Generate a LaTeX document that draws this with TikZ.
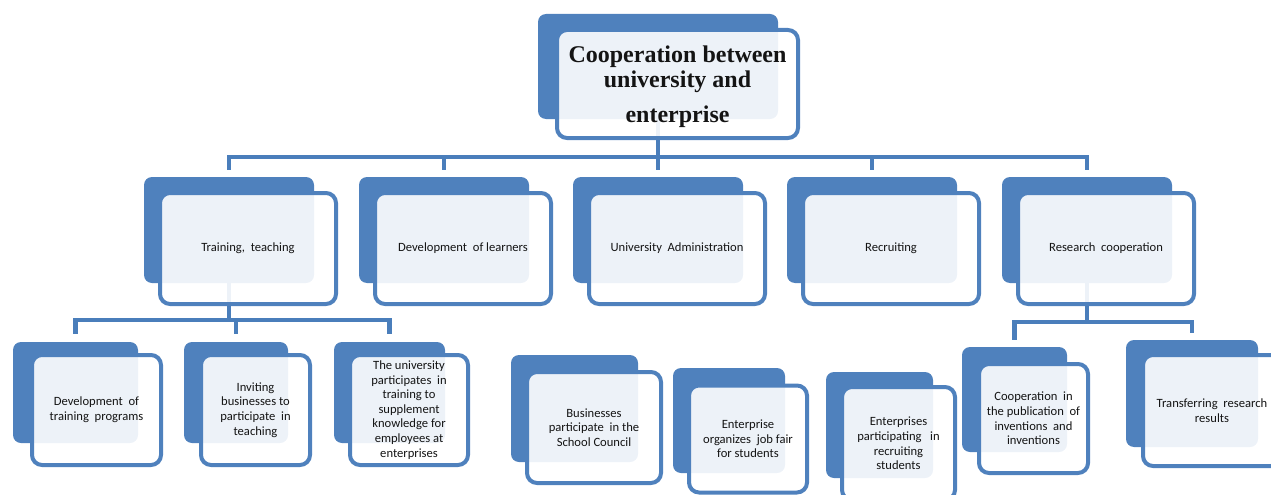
\documentclass[tikz,border=0pt]{standalone}
\usepackage{fontspec}
\setmainfont{Carlito}
\newfontfamily\titlefont{Liberation Serif}
\definecolor{bl}{HTML}{4F81BD}
\definecolor{bline}{HTML}{4A7EBB}
\definecolor{txt}{HTML}{141414}
\begin{document}
\begin{tikzpicture}[x=1pt,y=-1pt,
  backbox/.style={fill=bl, draw=none, rounded corners=8pt, inner sep=0pt},
  frontbox/.style={draw=bl, line width=4pt, fill=white, fill opacity=0.9, text opacity=1,
    rounded corners=10pt, inner sep=0pt, align=center, text=txt,
    font=\fontsize{12.6}{14.6}\selectfont},
  titletext/.style={inner sep=0pt, align=center, text=txt, anchor=base,
    font=\titlefont\bfseries\fontsize{24}{25}\selectfont},
  conn/.style={draw=bline, line width=4.5pt}]
\useasboundingbox (0,0) rectangle (1271,495);
\clip (0,0) rectangle (1271,495);
% back boxes
\node[backbox, minimum width=240pt, minimum height=105pt] (topB) at (658,66.5) {};
\node[backbox, minimum width=170pt, minimum height=106pt] (tB) at (229,230) {};
\node[backbox, minimum width=170pt, minimum height=106pt] (dB) at (444,230) {};
\node[backbox, minimum width=170pt, minimum height=106pt] (uB) at (658,230) {};
\node[backbox, minimum width=170pt, minimum height=106pt] (rB) at (872,230) {};
\node[backbox, minimum width=170pt, minimum height=106pt] (rcB) at (1087,230) {};
\node[backbox, minimum width=125pt, minimum height=101pt] (dtB) at (75.5,392.5) {};
\node[backbox, minimum width=104pt, minimum height=101pt] (ibB) at (236,392.5) {};
\node[backbox, minimum width=111pt, minimum height=101pt] (upB) at (389.5,392.5) {};
\node[backbox, minimum width=127pt, minimum height=107pt] (bpB) at (574.5,408.5) {};
\node[backbox, minimum width=112pt, minimum height=105pt] (ejB) at (729,420.5) {};
\node[backbox, minimum width=107pt, minimum height=106pt] (epB) at (879.5,425) {};
\node[backbox, minimum width=105pt, minimum height=105pt] (cpB) at (1014.5,399.5) {};
\node[backbox, minimum width=132pt, minimum height=107pt] (trB) at (1192,393.5) {};
% connectors
\coordinate (b1) at (658,157);
\draw[conn] (topB.south) -- (b1);
\foreach \n in {tB,dB,uB,rB,rcB} {\draw[conn] ([yshift=7pt]\n.north) |- (b1);}
\coordinate (b2) at (229,320);
\draw[conn] (tB.south) -- (b2);
\foreach \n in {dtB,ibB,upB} {\draw[conn] ([yshift=8pt]\n.north) |- (b2);}
\coordinate (b3) at (1087,322);
\draw[conn] (rcB.south) -- (b3);
\foreach \n in {cpB,trB} {\draw[conn] ([yshift=7pt]\n.north) |- (b3);}
% front boxes
\node[frontbox, minimum width=241pt, minimum height=108pt] (top) at (677.5,84) {};
\node[titletext] (toptext) at (677.5,122) {Cooperation between\\university and\\[10pt]enterprise};
\node[frontbox, minimum width=176pt, minimum height=111pt] (t) at (248,248.5) {Training, \ teaching};
\node[frontbox, minimum width=176pt, minimum height=111pt] (d) at (463,248.5) {Development \ of learners};
\node[frontbox, minimum width=176pt, minimum height=111pt] (u) at (677,248.5) {University \ Administration};
\node[frontbox, minimum width=176pt, minimum height=111pt] (r) at (891,248.5) {Recruiting};
\node[frontbox, minimum width=176pt, minimum height=111pt] (rc) at (1106,248.5) {Research \ cooperation};
\node[frontbox, minimum width=129pt, minimum height=110pt] (dt) at (96.5,410) {Development \ of\\training \ programs};
\node[frontbox, minimum width=109pt, minimum height=110pt] (ib) at (255.5,410) {Inviting\\businesses to\\participate \ in\\teaching};
\node[frontbox, minimum width=118pt, minimum height=110pt] (up) at (409,410) {The university\\participates \ in\\training to\\supplement\\knowledge for\\employees at\\enterprises};
\node[frontbox, minimum width=134pt, minimum height=111pt] (bp) at (594,427.5) {Businesses\\participate \ in the\\School Council};
\node[frontbox, minimum width=118pt, minimum height=107pt] (ej) at (748,439) {Enterprise\\organizes \ job fair\\for students};
\node[frontbox, minimum width=113pt, minimum height=113pt] (ep) at (898.5,443.5) {Enterprises\\participating \ \ in\\recruiting\\students};
\node[frontbox, minimum width=109pt, minimum height=109pt] (cp) at (1033.5,418.5) {Cooperation \ in\\the publication \ of\\inventions \ and\\inventions};
\node[frontbox, minimum width=138pt, minimum height=111pt] (tr) at (1212,410.5) {Transferring \ research\\results};
\end{tikzpicture}
\end{document}
